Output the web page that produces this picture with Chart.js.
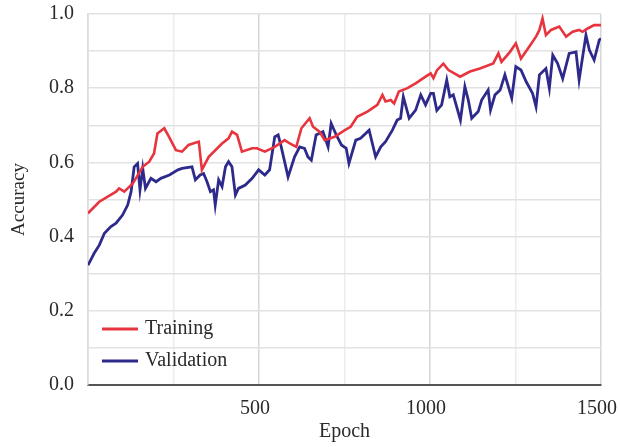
<!DOCTYPE html>
<html>
<head>
<meta charset="utf-8">
<script src="https://cdn.jsdelivr.net/npm/chart.js@4.4.1/dist/chart.umd.min.js"></script>
<style>
  html, body { margin: 0; padding: 0; background: #fff; }
  #wrap { width: 620px; height: 447px; }
</style>
</head>
<body>
<div id="wrap"><canvas id="accChart"></canvas></div>
<script>
// training curve (epoch, accuracy)
const trainEpochs = [0, 33, 82, 91, 106, 131, 160, 179, 193, 203, 223, 237, 257, 275, 294, 324, 333, 353, 392, 411, 421, 436, 450, 480, 494, 517, 546, 575, 590, 609, 624, 648, 658, 677, 692, 721, 751, 768, 787, 817, 846, 861, 870, 885, 895, 909, 934, 958, 987, 1002, 1010, 1020, 1039, 1054, 1088, 1117, 1146, 1185, 1200, 1209, 1234, 1251, 1266, 1290, 1310, 1320, 1329, 1339, 1354, 1378, 1398, 1417, 1436, 1446, 1461, 1480, 1500];
const trainAcc = [0.463, 0.494, 0.521, 0.530, 0.521, 0.543, 0.588, 0.602, 0.624, 0.678, 0.692, 0.669, 0.633, 0.629, 0.647, 0.656, 0.580, 0.615, 0.651, 0.665, 0.683, 0.674, 0.629, 0.638, 0.638, 0.629, 0.642, 0.660, 0.651, 0.642, 0.692, 0.719, 0.696, 0.683, 0.660, 0.669, 0.687, 0.696, 0.723, 0.737, 0.755, 0.782, 0.764, 0.768, 0.759, 0.791, 0.800, 0.813, 0.831, 0.840, 0.827, 0.848, 0.866, 0.849, 0.831, 0.845, 0.853, 0.867, 0.894, 0.871, 0.898, 0.921, 0.880, 0.912, 0.939, 0.957, 0.988, 0.943, 0.957, 0.966, 0.939, 0.952, 0.957, 0.952, 0.961, 0.970, 0.970];

// validation curve (epoch, accuracy)
const valEpochs = [0, 18, 33, 48, 67, 82, 101, 116, 126, 135, 145, 152, 160, 168, 184, 199, 213, 238, 263, 275, 304, 314, 328, 338, 348, 358, 367, 372, 382, 392, 402, 411, 421, 431, 440, 460, 480, 499, 517, 531, 546, 556, 565, 585, 604, 619, 633, 643, 653, 667, 687, 702, 711, 726, 741, 755, 763, 783, 797, 822, 841, 856, 870, 890, 904, 914, 922, 939, 958, 973, 987, 1002, 1010, 1020, 1034, 1049, 1058, 1068, 1078, 1089, 1102, 1112, 1122, 1141, 1151, 1170, 1177, 1190, 1205, 1219, 1239, 1251, 1266, 1281, 1300, 1310, 1320, 1339, 1349, 1359, 1373, 1388, 1407, 1427, 1436, 1456, 1466, 1480, 1495, 1500];
const valAcc = [0.323, 0.355, 0.377, 0.409, 0.427, 0.436, 0.458, 0.485, 0.521, 0.588, 0.597, 0.526, 0.584, 0.530, 0.557, 0.548, 0.557, 0.566, 0.580, 0.584, 0.588, 0.553, 0.566, 0.570, 0.548, 0.521, 0.526, 0.485, 0.553, 0.535, 0.588, 0.602, 0.588, 0.512, 0.530, 0.539, 0.557, 0.580, 0.566, 0.580, 0.669, 0.674, 0.642, 0.561, 0.615, 0.642, 0.638, 0.615, 0.606, 0.674, 0.683, 0.642, 0.705, 0.674, 0.647, 0.638, 0.597, 0.660, 0.665, 0.687, 0.615, 0.642, 0.656, 0.687, 0.714, 0.719, 0.777, 0.719, 0.741, 0.782, 0.755, 0.786, 0.786, 0.740, 0.755, 0.822, 0.777, 0.782, 0.750, 0.714, 0.804, 0.768, 0.719, 0.737, 0.768, 0.795, 0.741, 0.782, 0.795, 0.836, 0.773, 0.858, 0.849, 0.818, 0.786, 0.750, 0.836, 0.853, 0.800, 0.889, 0.867, 0.826, 0.894, 0.898, 0.822, 0.943, 0.903, 0.876, 0.930, 0.934];

const seriesNames = ["Training", "Validation"];
const seriesColors = ["#e8343e", "#2e2a8c"];

const FONT = "'Liberation Serif', 'Times New Roman', serif";
const TEXT = "#2a2a2a";

function toPoints(xs, ys) {
  return xs.map((x, i) => ({ x: x, y: ys[i] }));
}

// legend drawn inside the plot, bottom-left
const innerLegend = {
  id: "innerLegend",
  afterDatasetsDraw(chart) {
    const { ctx, chartArea } = chart;
    const rows = [chartArea.bottom - 56, chartArea.bottom - 24];
    ctx.save();
    ctx.font = "20px " + FONT;
    ctx.textBaseline = "middle";
    chart.data.datasets.forEach((ds, i) => {
      const y = rows[i];
      ctx.strokeStyle = ds.borderColor;
      ctx.lineWidth = 3;
      ctx.beginPath();
      ctx.moveTo(chartArea.left + 14, y);
      ctx.lineTo(chartArea.left + 50, y);
      ctx.stroke();
      ctx.fillStyle = TEXT;
      ctx.fillText(ds.label, chartArea.left + 57, y);
    });
    ctx.restore();
  }
};

new Chart(document.getElementById("accChart"), {
  type: "line",
  data: {
    datasets: [
      {
        label: seriesNames[0],
        data: toPoints(trainEpochs, trainAcc),
        borderColor: seriesColors[0],
        borderWidth: 2.6,
        pointRadius: 0,
        tension: 0,
        fill: false
      },
      {
        label: seriesNames[1],
        data: toPoints(valEpochs, valAcc),
        borderColor: seriesColors[1],
        borderWidth: 2.8,
        pointRadius: 0,
        tension: 0,
        fill: false
      }
    ]
  },
  options: {
    responsive: true,
    maintainAspectRatio: false,
    animation: false,
    layout: { padding: { left: 0, right: 19, top: 14, bottom: 0 } },
    plugins: {
      legend: { display: false },
      tooltip: { enabled: false }
    },
    scales: {
      x: {
        type: "linear",
        min: 0,
        max: 1500,
        afterFit(scale) {
          scale.height = 62;
          scale.paddingLeft = 0;
          scale.paddingRight = 0;
        },
        border: { color: "#555", width: 2 },
        grid: {
          drawTicks: false,
          lineWidth: 1.5,
          color: c => (c.tick && c.tick.value % 500 === 0) ? "#d6d6d6" : "#ececec"
        },
        ticks: {
          stepSize: 250,
          padding: 12,
          maxRotation: 0,
          autoSkip: false,
          labelOffset: -4,
          color: TEXT,
          font: { family: FONT, size: 20 },
          callback: v => (v !== 0 && v % 500 === 0) ? String(v) : ""
        },
        title: {
          display: true,
          text: "Epoch",
          color: TEXT,
          font: { family: FONT, size: 20 },
          padding: { top: 0, bottom: 3 }
        }
      },
      y: {
        min: 0,
        max: 1,
        afterFit(scale) {
          scale.width = 88;
          scale.paddingTop = 0;
          scale.paddingBottom = 0;
        },
        border: { color: "#dcdcdc", width: 1.5 },
        grid: {
          drawTicks: false,
          lineWidth: 1.5,
          color: "#e2e2e2"
        },
        ticks: {
          stepSize: 0.1,
          padding: 14,
          color: TEXT,
          font: { family: FONT, size: 20 },
          callback: v => (Math.round(v * 10) % 2 === 0) ? v.toFixed(1) : ""
        },
        title: {
          display: true,
          text: "Accuracy",
          color: TEXT,
          font: { family: FONT, size: 19 },
          padding: { top: 8, bottom: 0 }
        }
      }
    }
  },
  plugins: [innerLegend]
});
</script>
</body>
</html>
